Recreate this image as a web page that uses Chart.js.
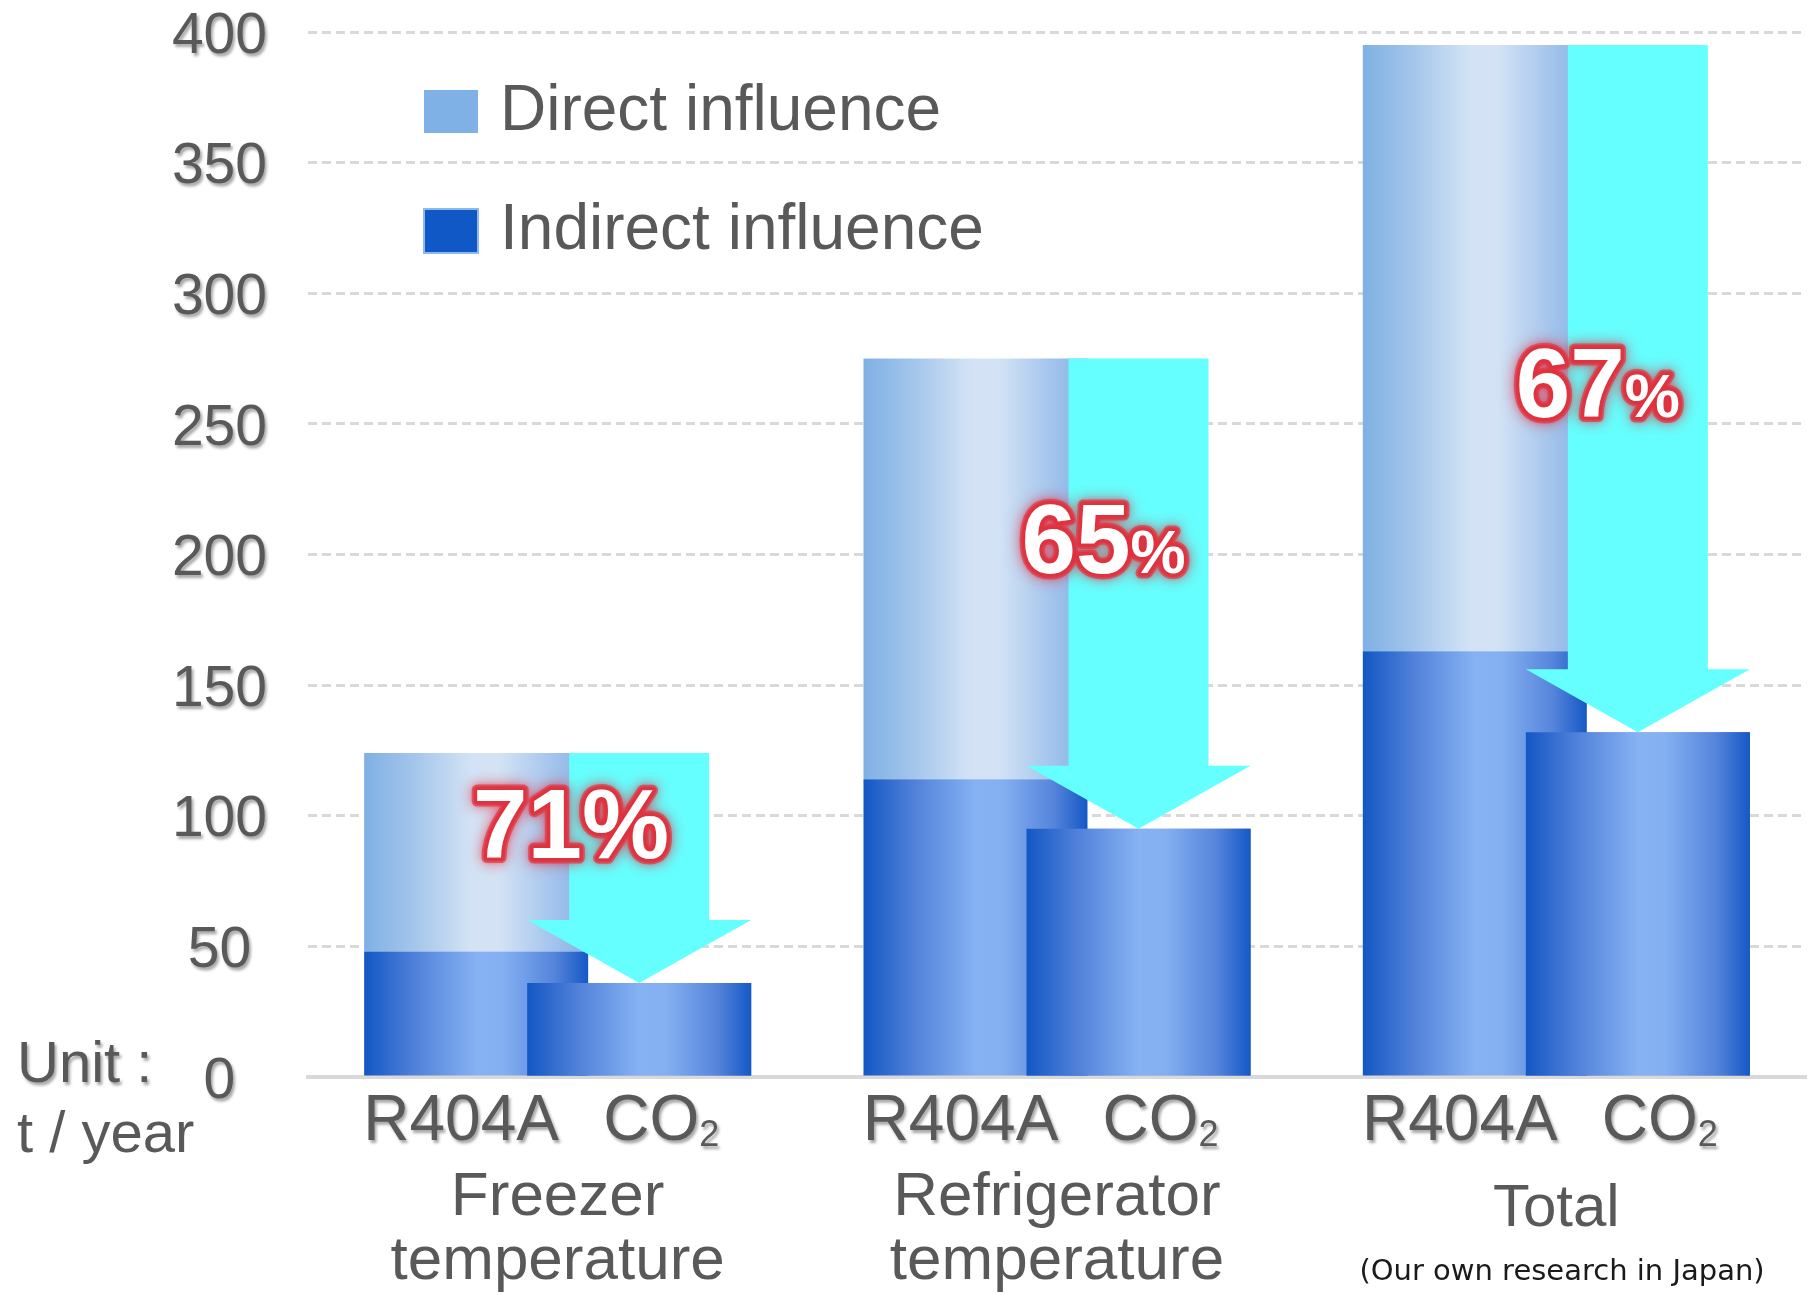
<!DOCTYPE html>
<html>
<head>
<meta charset="utf-8">
<title>Annual CO2 emissions: R404A vs CO2</title>
<script src="https://cdn.jsdelivr.net/npm/chart.js@4.4.0/dist/chart.umd.min.js"></script>
<style>
  html, body { margin: 0; padding: 0; background: #fff; }
  #wrap { width: 1810px; height: 1295px; }
</style>
</head>
<body>
<div id="wrap"><canvas id="co2-chart" width="1810" height="1295"></canvas></div>
<script>
// values in t / year
const categories = [['Freezer', 'temperature'], ['Refrigerator', 'temperature'], ['Total']];
const refrigerants = ['R404A', 'CO2'];
const r404aIndirect = [48, 114, 163];
const r404aDirect = [76, 161, 232];
const co2Indirect = [36, 95, 132];
const reductionLabels = ['71%', '65%', '67%'];
const yTicks = [0, 50, 100, 150, 200, 250, 300, 350, 400];

const FONT = "'Liberation Sans', Arial, sans-serif";
const TEXT_GRAY = '#595959';

// horizontal "cylinder" shading for the bars
const directStops = [[0, '#7fb0e4'], [0.22, '#a3c5eb'], [0.48, '#d3e3f5'], [0.6, '#d3e3f5'], [0.85, '#a2c3ec'], [1, '#84b1e4']];
const indirectStops = [[0, '#1257c4'], [0.22, '#4f80d9'], [0.5, '#86b2f3'], [0.62, '#84b0f1'], [0.85, '#5584db'], [1, '#1558c6']];

function barGradient(ctx, bar, stops) {
    const g = ctx.createLinearGradient(bar.x - bar.width / 2, 0, bar.x + bar.width / 2, 0);
    stops.forEach(([o, c]) => g.addColorStop(o, c));
    return g;
}

function setShadow(ctx) {
    ctx.shadowColor = 'rgba(0,0,0,0.35)';
    ctx.shadowOffsetX = 2;
    ctx.shadowOffsetY = 3;
    ctx.shadowBlur = 3;
}

// Swap the flat colours for gradients once the bars know where they are
const gradientPlugin = {
    id: 'barGradients',
    beforeDatasetsDraw(chart) {
        chart.data.datasets.forEach((ds, i) => {
            chart.getDatasetMeta(i).data.forEach(bar => {
                bar.options = Object.assign({}, bar.options, {
                    backgroundColor: barGradient(chart.ctx, bar, ds.shading)
                });
            });
        });
    }
};

// y tick labels have a soft drop shadow in the original
const tickShadowPlugin = {
    id: 'tickShadow',
    beforeDraw(chart) {
        const y = chart.scales.y;
        if (y._shadowPatched) return;
        const drawLabels = y.drawLabels;
        y.drawLabels = function (area) {
            this.ctx.save();
            setShadow(this.ctx);
            drawLabels.call(this, area);
            this.ctx.restore();
        };
        y._shadowPatched = true;
    }
};

function glowText(ctx, parts) {
    // halo first (two soft passes), then the white glyphs on top
    ctx.save();
    ctx.lineJoin = 'round';
    ctx.shadowColor = 'rgba(230,40,55,0.95)';
    ctx.shadowBlur = 14;
    ctx.strokeStyle = 'rgba(226,58,70,0.7)';
    ctx.lineWidth = 11;
    parts.forEach(p => { ctx.font = p.font; ctx.strokeText(p.text, p.x, p.y); });
    ctx.shadowBlur = 4;
    ctx.lineWidth = 7;
    ctx.strokeStyle = 'rgba(222,50,62,0.75)';
    parts.forEach(p => { ctx.font = p.font; ctx.strokeText(p.text, p.x, p.y); });
    ctx.restore();
    ctx.save();
    ctx.fillStyle = '#fff';
    parts.forEach(p => { ctx.font = p.font; ctx.fillText(p.text, p.x, p.y); });
    ctx.restore();
}

// Cyan arrows from the R404A total down to the CO2 bar, with the reduction %
const arrowPlugin = {
    id: 'reductionArrows',
    afterDatasetsDraw(chart, args, opts) {
        const ctx = chart.ctx;
        const yScale = chart.scales.y;
        const r404aTops = chart.getDatasetMeta(1).data;
        const co2Meta = chart.getDatasetMeta(2);
        co2Meta.controller.draw(); // CO2 bars sit in front of the R404A bars

        co2Meta.data.forEach((bar, i) => {
            const cx = bar.x;
            const top = r404aTops[i].y;
            const tip = bar.y;
            const shaft = bar.width * opts.shaftRatio / 2;
            const head = bar.width / 2;
            const neck = tip - opts.headHeight;
            ctx.save();
            ctx.fillStyle = opts.color;
            ctx.beginPath();
            ctx.moveTo(cx - shaft, top);
            ctx.lineTo(cx + shaft, top);
            ctx.lineTo(cx + shaft, neck);
            ctx.lineTo(cx + head, neck);
            ctx.lineTo(cx, tip);
            ctx.lineTo(cx - head, neck);
            ctx.lineTo(cx - shaft, neck);
            ctx.closePath();
            ctx.fill();
            ctx.restore();

            // percentage label
            const label = reductionLabels[i];
            const digits = label.replace('%', '');
            const bigFont = `bold ${opts.digitSize}px ${FONT}`;
            const pctFont = `bold ${opts.smallPercent[i] ? opts.percentSize : opts.digitSize}px ${FONT}`;
            ctx.font = bigFont;
            const wd = ctx.measureText(digits).width;
            ctx.font = pctFont;
            const wp = ctx.measureText('%').width;
            const x0 = cx + opts.labelDx[i] - (wd + wp) / 2;
            const baseY = yScale.getPixelForValue(opts.labelAt[i]);
            ctx.textBaseline = 'alphabetic';
            ctx.textAlign = 'left';
            glowText(ctx, [
                { text: digits, font: bigFont, x: x0, y: baseY },
                { text: '%', font: pctFont, x: x0 + wd, y: baseY }
            ]);
        });
    }
};

// legend, unit note, R404A / CO2 labels under each bar, footnote
const annotationPlugin = {
    id: 'annotations',
    afterDraw(chart) {
        const ctx = chart.ctx;
        const area = chart.chartArea;
        ctx.save();

        // legend
        const lx = 424;
        ctx.font = `64px ${FONT}`;
        ctx.textBaseline = 'middle';
        ctx.textAlign = 'left';
        ctx.fillStyle = '#7fb0e6';
        ctx.fillRect(lx, area.top + 58, 54, 43);
        ctx.fillStyle = '#0f58c6';
        ctx.fillRect(lx, area.top + 177, 54, 44);
        ctx.strokeStyle = '#8fb8ee';
        ctx.lineWidth = 2;
        ctx.strokeRect(lx, area.top + 177, 54, 44);
        ctx.fillStyle = TEXT_GRAY;
        ctx.fillText('Direct influence', lx + 76, area.top + 80);
        ctx.fillText('Indirect influence', lx + 76, area.top + 199);

        // unit
        ctx.save();
        setShadow(ctx);
        ctx.font = `58px ${FONT}`;
        ctx.textBaseline = 'alphabetic';
        ctx.fillText('Unit :', 17, area.bottom + 5);
        ctx.restore();
        ctx.font = `58px ${FONT}`;
        ctx.textBaseline = 'alphabetic';
        ctx.fillText('t / year', 17, area.bottom + 75);

        // refrigerant names under each bar
        const base = area.bottom + 63;
        ctx.save();
        setShadow(ctx);
        ctx.fillStyle = TEXT_GRAY;
        ctx.textBaseline = 'alphabetic';
        categories.forEach((c, i) => {
            const rx = chart.getDatasetMeta(0).data[i].x - 15;
            const cx = chart.getDatasetMeta(2).data[i].x + 22;
            ctx.font = `64px ${FONT}`;
            ctx.textAlign = 'center';
            ctx.fillText(refrigerants[0], rx, base);
            // CO2 with a real subscript
            const main = refrigerants[1].slice(0, 2);
            const sub = refrigerants[1].slice(2);
            const wm = ctx.measureText(main).width;
            ctx.font = `36px ${FONT}`;
            const ws = ctx.measureText(sub).width;
            const start = cx - (wm + ws) / 2;
            ctx.textAlign = 'left';
            ctx.font = `64px ${FONT}`;
            ctx.fillText(main, start, base);
            ctx.font = `36px ${FONT}`;
            ctx.fillText(sub, start + wm, base + 6);
        });
        ctx.restore();

        // footnote
        ctx.font = `29px 'DejaVu Sans', Verdana, sans-serif`;
        ctx.fillStyle = '#1a1a1a';
        ctx.textAlign = 'center';
        ctx.textBaseline = 'middle';
        ctx.fillText('(Our own research in Japan)', chart.width - 248, 1272);
        ctx.restore();
    }
};

new Chart(document.getElementById('co2-chart'), {
    type: 'bar',
    data: {
        labels: categories,
        datasets: [
            { label: 'Indirect influence', data: r404aIndirect, stack: 'R404A', backgroundColor: '#0f58c6', shading: indirectStops },
            { label: 'Direct influence', data: r404aDirect, stack: 'R404A', backgroundColor: '#7fb0e6', shading: directStops },
            { label: 'Indirect influence', data: co2Indirect, stack: 'CO2', backgroundColor: '#0f58c6', shading: indirectStops }
        ]
    },
    options: {
        responsive: false,
        animation: false,
        devicePixelRatio: 1,
        categoryPercentage: 0.653,
        barPercentage: 1.374,
        layout: { padding: { left: 168, top: 32, right: 4, bottom: 0 } },
        plugins: {
            legend: { display: false },
            tooltip: { enabled: false },
            reductionArrows: {
                color: '#66ffff',
                shaftRatio: 0.625,
                headHeight: 63,
                digitSize: 98,
                percentSize: 62,
                smallPercent: [false, true, true],
                labelDx: [-68, -35, -40],
                labelAt: [84, 193, 252.5]
            }
        },
        scales: {
            x: {
                stacked: true,
                grid: { display: false, drawTicks: false },
                border: { display: true, color: '#d9d9d9', width: 4 },
                ticks: {
                    color: TEXT_GRAY,
                    // "Total" is a single line that sits a little lower than the others
                    font: c => (c.index === 2
                        ? { family: FONT, size: 60, lineHeight: 1.45 }
                        : { family: FONT, size: 62, lineHeight: 1.03 }),
                    padding: 89,
                    maxRotation: 0,
                    autoSkip: false
                },
                afterFit: scale => { scale.height = 218; }
            },
            y: {
                stacked: true,
                min: 0,
                max: 400,
                afterBuildTicks: axis => { axis.ticks = yTicks.map(v => ({ value: v })); },
                afterFit: scale => {
                    scale.width = 140;
                    scale.paddingTop = 0;
                    scale.paddingBottom = 0;
                },
                grid: {
                    color: c => (c.tick && c.tick.value === 0 ? 'rgba(0,0,0,0)' : '#d9d9d9'),
                    lineWidth: 3,
                    drawTicks: false
                },
                border: { display: false, dash: [9, 5] },
                ticks: {
                    color: TEXT_GRAY,
                    font: { family: FONT, size: 57 },
                    crossAlign: 'center',
                    padding: 41,
                    labelOffset: 5
                }
            }
        }
    },
    plugins: [gradientPlugin, tickShadowPlugin, arrowPlugin, annotationPlugin]
});
</script>
</body>
</html>
